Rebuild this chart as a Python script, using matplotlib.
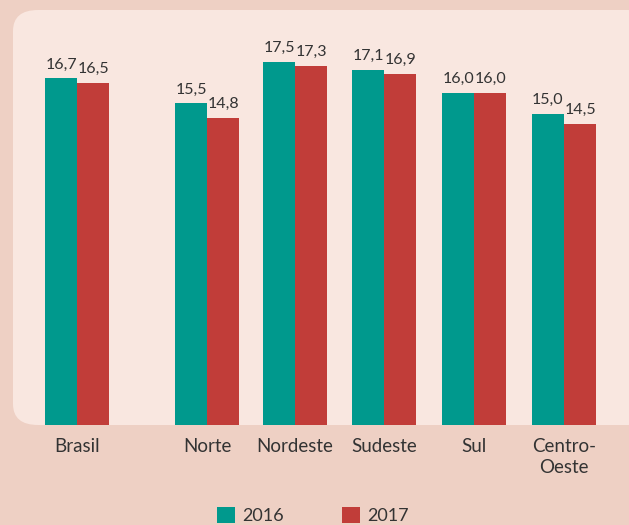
import matplotlib
matplotlib.use('Agg')
import matplotlib.pyplot as plt
from matplotlib.patches import FancyBboxPatch

plt.rcParams['font.family'] = ['Lato', 'DejaVu Sans']

# Dados
regioes = ['Brasil', 'Norte', 'Nordeste', 'Sudeste', 'Sul', 'Centro-\nOeste']
posicoes = [0, 1.46, 2.45, 3.45, 4.46, 5.47]
valores_2016 = [16.7, 15.5, 17.5, 17.1, 16.0, 15.0]
valores_2017 = [16.5, 14.8, 17.3, 16.9, 16.0, 14.5]

cor_2016 = '#00998d'
cor_2017 = '#c13d39'
cor_fundo = '#eed0c4'
cor_painel = '#f9e7e0'
cor_texto = '#333333'

W, H = 629, 525
fig = plt.figure(figsize=(W / 100, H / 100), dpi=100)
fig.patch.set_facecolor(cor_fundo)

# painel arredondado
painel = FancyBboxPatch((13 / W, 100 / H), 640 / W, 415 / H,
                        boxstyle='round,pad=0,rounding_size=0.04',
                        transform=fig.transFigure, facecolor=cor_painel,
                        edgecolor='none', zorder=-5)
fig.patches.append(painel)

ax = fig.add_axes([13 / W, 100 / H, 616 / W, 415 / H])
ax.set_zorder(2)
ax.patch.set_alpha(0)

largura = 0.36
b1 = ax.bar([p - largura / 2 for p in posicoes], valores_2016, largura,
            color=cor_2016, label='2016')
b2 = ax.bar([p + largura / 2 for p in posicoes], valores_2017, largura,
            color=cor_2017, label='2017')

for barras, vals in [(b1, valores_2016), (b2, valores_2017)]:
    for b, v in zip(barras, vals):
        ax.annotate(f'{v:.1f}'.replace('.', ','),
                    (b.get_x() + b.get_width() / 2, v),
                    xytext=(0, 5), textcoords='offset points',
                    ha='center', va='bottom', fontsize=11.5, color=cor_texto)

ax.set_xlim(-0.72, 6.2)
ax.set_ylim(0, 20)
ax.set_xticks(posicoes)
ax.set_xticklabels(regioes, fontsize=13.5, color=cor_texto, linespacing=1.35)
ax.tick_params(axis='x', length=0, pad=9)
ax.set_yticks([])
for s in ax.spines.values():
    s.set_visible(False)

fig.legend(handles=[b1, b2], loc='upper center', bbox_to_anchor=(0.497, 0.034),
           ncol=2, frameon=False, fontsize=13, handlelength=1.0,
           handleheight=1.0, handletextpad=0.4, columnspacing=3.2,
           labelcolor=cor_texto, borderaxespad=0, borderpad=0)

fig.savefig('out.png', dpi=100, facecolor=cor_fundo)
